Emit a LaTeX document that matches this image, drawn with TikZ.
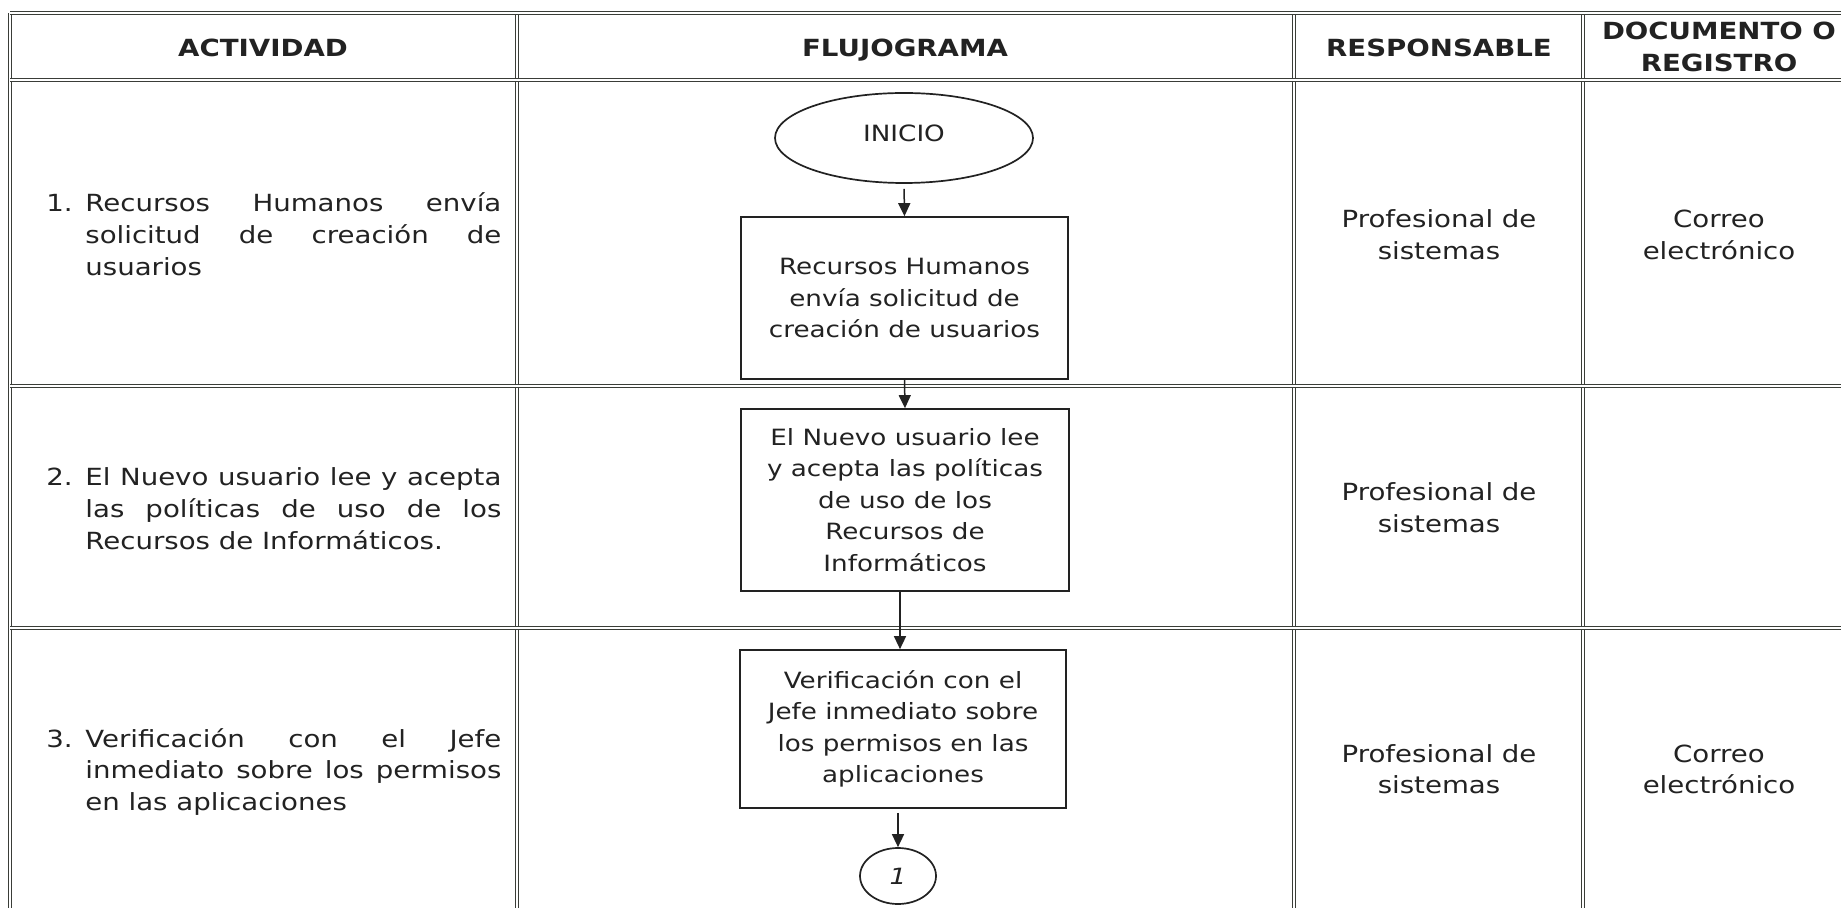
\documentclass[tikz,border=0pt]{standalone}
\usepackage{fontspec}
\setmainfont{DejaVu Sans}[FakeStretch=1.17]
\usetikzlibrary{arrows.meta,shapes.geometric}
\definecolor{ink}{HTML}{222222}
\definecolor{rulec}{HTML}{3A3D38}
\begin{document}
\begin{tikzpicture}[x=0.5pt,y=-0.5pt,
  grid/.style={draw=rulec, double=white, double distance=0.9pt, line width=0.55pt},
  hdr/.style={font=\bfseries\fontsize{11.8}{15.8}\selectfont, text=ink, inner sep=0pt, anchor=base},
  cell/.style={font=\fontsize{11.8}{15.8}\selectfont, text=ink, inner sep=0pt, anchor=base},
  flowbox/.style={draw=ink, line width=0.85pt, rectangle, inner sep=0pt, font=\fontsize{11.2}{15.75}\selectfont, text=ink, align=center},
  flowarrow/.style={draw=ink, line width=0.75pt, -{Triangle[length=6.5pt,width=6pt]}}]
\fill[white] (0,0) rectangle (1841,908);
\useasboundingbox (0,0) rectangle (1841,908);
% table grid
\foreach \xx in {10,517,1294,1583} \draw[grid] (\xx,13) -- (\xx,912);
\foreach \yy in {13,80,386,628} \draw[grid] (10,\yy) -- (1845,\yy);
% headers
\node[hdr] (h1) at (263,57) {ACTIVIDAD};
\node[hdr] (h2) at (905,57) {FLUJOGRAMA};
\node[hdr] (h3) at (1439,57) {RESPONSABLE};
\node[hdr] (h4) at (1719,40) {\parbox[t]{130pt}{\centering DOCUMENTO O\\REGISTRO}};
% activity column
\node[cell, anchor=base west] (a1) at (46,212) {\parbox[t]{227.5pt}{\hangindent=19.5pt\hangafter=1\noindent\makebox[19.5pt][l]{1.}Recursos Humanos envía\linebreak solicitud de creación de\linebreak usuarios}};
\node[cell, anchor=base west] (a2) at (46,486) {\parbox[t]{227.5pt}{\hangindent=19.5pt\hangafter=1\noindent\makebox[19.5pt][l]{2.}El Nuevo usuario lee y acepta\linebreak las políticas de uso de los\linebreak Recursos de Informáticos.}};
\node[cell, anchor=base west] (a3) at (46,747) {\parbox[t]{227.5pt}{\hangindent=19.5pt\hangafter=1\noindent\makebox[19.5pt][l]{3.}Verificación con el Jefe\linebreak inmediato sobre los permisos\linebreak en las aplicaciones}};
% responsable column
\node[cell] (r1) at (1439,228) {\parbox[t]{130pt}{\centering Profesional de\\sistemas}};
\node[cell] (r2) at (1439,501) {\parbox[t]{130pt}{\centering Profesional de\\sistemas}};
\node[cell] (r3) at (1439,762) {\parbox[t]{130pt}{\centering Profesional de\\sistemas}};
% documento column
\node[cell] (d1) at (1719,228) {\parbox[t]{130pt}{\centering Correo\\electrónico}};
\node[cell] (d3) at (1719,762) {\parbox[t]{130pt}{\centering Correo\\electrónico}};
% flowchart
\node[draw=ink, line width=0.85pt, ellipse, minimum width=129pt, minimum height=45pt, inner sep=0pt,
      font=\fontsize{11.2}{14}\selectfont, text=ink, text height=8.2pt, text depth=5pt] (inicio) at (904,138) {INICIO};
\node[flowbox, minimum width=163.5pt, minimum height=81pt] (b1) at (904.5,298) {Recursos Humanos\\envía solicitud de\\creación de usuarios};
\node[flowbox, minimum width=164pt, minimum height=91pt] (b2) at (905,500) {El Nuevo usuario lee\\y acepta las políticas\\de uso de los\\Recursos de\\Informáticos};
\node[flowbox, minimum width=163pt, minimum height=79pt] (b3) at (903,729) {Verificación con el\\Jefe inmediato sobre\\los permisos en las\\aplicaciones};
\node[draw=ink, line width=0.85pt, ellipse, minimum width=38pt, minimum height=28pt, inner sep=0pt,
      font=\itshape\fontsize{11.2}{14}\selectfont, text=ink] (c1) at (898,876) {1};
\draw[flowarrow, shorten <=2.5pt] (inicio.south) -- (b1.north);
\draw[flowarrow] (b1.south) -- (b2.north);
\draw[flowarrow] ([xshift=-2.5pt]b2.south) -- ([xshift=-2.5pt]b2.south |- b3.north);
\draw[flowarrow, shorten <=2pt] (b3.south -| c1.north) -- (c1.north);
\end{tikzpicture}
\end{document}
